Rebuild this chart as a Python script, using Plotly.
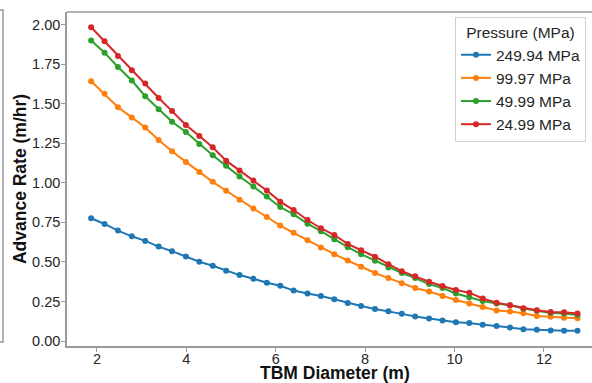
import plotly.graph_objects as go

diameter_m = [1.87, 2.17, 2.47, 2.78, 3.08, 3.38, 3.68, 3.99, 4.29, 4.59,
              4.89, 5.19, 5.50, 5.80, 6.10, 6.40, 6.71, 7.01, 7.31, 7.61,
              7.91, 8.22, 8.52, 8.82, 9.12, 9.43, 9.73, 10.03, 10.33, 10.63,
              10.94, 11.24, 11.54, 11.84, 12.15, 12.45, 12.75]

rate_249_94 = [0.776, 0.740, 0.698, 0.662, 0.633, 0.597, 0.568, 0.535, 0.501, 0.476,
               0.445, 0.417, 0.394, 0.369, 0.350, 0.319, 0.300, 0.285, 0.264,
               0.241, 0.222, 0.203, 0.189, 0.172, 0.155, 0.143, 0.130, 0.119,
               0.115, 0.103, 0.096, 0.086, 0.075, 0.071, 0.067, 0.065, 0.065]
rate_99_97 = [1.642, 1.562, 1.478, 1.413, 1.350, 1.270, 1.199, 1.132, 1.069, 1.006,
              0.950, 0.893, 0.838, 0.784, 0.730, 0.684, 0.637, 0.591, 0.549,
              0.509, 0.470, 0.430, 0.398, 0.365, 0.335, 0.313, 0.285, 0.260,
              0.237, 0.216, 0.193, 0.187, 0.176, 0.159, 0.153, 0.147, 0.145]
rate_49_99 = [1.899, 1.822, 1.732, 1.646, 1.547, 1.465, 1.386, 1.321, 1.245, 1.174,
              1.107, 1.040, 0.977, 0.914, 0.847, 0.801, 0.742, 0.694, 0.644,
              0.593, 0.549, 0.508, 0.465, 0.430, 0.398, 0.360, 0.335, 0.301,
              0.277, 0.253, 0.237, 0.226, 0.205, 0.191, 0.178, 0.174, 0.165]
rate_24_99 = [1.983, 1.895, 1.801, 1.711, 1.627, 1.536, 1.453, 1.365, 1.296, 1.225,
              1.140, 1.077, 1.014, 0.951, 0.881, 0.828, 0.765, 0.713, 0.670,
              0.614, 0.574, 0.533, 0.486, 0.442, 0.409, 0.375, 0.348, 0.323,
              0.306, 0.269, 0.243, 0.226, 0.208, 0.195, 0.184, 0.182, 0.174]

series_names = ["249.94 MPa", "99.97 MPa", "49.99 MPa", "24.99 MPa"]
series_values = [rate_249_94, rate_99_97, rate_49_99, rate_24_99]
colors = ["#1f77b4", "#ff7f0e", "#2ca02c", "#d62728"]

x_ticks = [2, 4, 6, 8, 10, 12]
y_ticks = [0, 0.25, 0.5, 0.75, 1.0, 1.25, 1.5, 1.75, 2.0]

FONT = "Liberation Sans, Arial, sans-serif"
SPINE = "#9a9a9a"

fig = go.Figure()
for name, vals, col in zip(series_names, series_values, colors):
    fig.add_trace(go.Scatter(
        x=diameter_m, y=vals, name=name, mode="lines+markers",
        line=dict(color=col, width=2),
        marker=dict(color=col, size=6),
    ))

fig.update_layout(
    width=592, height=383,
    margin=dict(l=67, r=0, t=12, b=37),
    paper_bgcolor="white", plot_bgcolor="white",
    font=dict(family=FONT, color="#262626", size=14.5),
    showlegend=True,
    legend=dict(
        x=0.739, y=0.985, xanchor="left", yanchor="top",
        bgcolor="white", bordercolor="#d0d0d0", borderwidth=1,
        font=dict(family=FONT, size=15.5, color="#262626"),
        title=dict(text="Pressure (MPa)", side="top center",
                   font=dict(family=FONT, size=15.5, color="#262626")),
        itemwidth=30,
    ),
)

fig.update_xaxes(
    range=[1.33, 13.075], tickvals=x_ticks, ticktext=[str(t) for t in x_ticks],
    ticks="outside", ticklen=4, tickwidth=1, tickcolor=SPINE,
    ticklabelstandoff=-5,
    showline=True, linecolor=SPINE, linewidth=1.5, mirror=False,
    showgrid=False, zeroline=False,
    tickfont=dict(family=FONT, size=14.5, color="#262626"),
    automargin=False,
)
fig.update_yaxes(
    range=[-0.031, 2.079], tickvals=y_ticks, tickformat=".2f",
    ticks="outside", ticklen=4, tickwidth=1, tickcolor=SPINE,
    ticklabelstandoff=-2,
    showline=True, linecolor=SPINE, linewidth=1.5, mirror=False,
    showgrid=False, zeroline=False,
    tickfont=dict(family=FONT, size=14.5, color="#262626"),
    title=dict(text="<b>Advance Rate (m/hr)</b>", standoff=1,
               font=dict(family=FONT, size=17.5, color="#111111")),
    automargin=False,
)

# x-axis title placed precisely below the tick labels
fig.add_annotation(text="<b>TBM Diameter (m)</b>", xref="paper", yref="paper",
                   x=0.5105, y=-0.0823, xanchor="center", yanchor="middle",
                   showarrow=False, borderpad=0,
                   font=dict(family=FONT, size=17.5, color="#111111"))

# top spine (right spine is cropped off in the reference)
fig.add_shape(type="line", xref="paper", yref="paper",
              x0=0, x1=1.05, y0=1, y1=1,
              line=dict(color=SPINE, width=1.5))
# edge of the neighbouring panel at the far left
fig.add_shape(type="path", xref="paper", yref="paper",
              path="M -0.14,1.006 L -0.1219,1.006 L -0.1219,0.012 L -0.14,0.012",
              line=dict(color=SPINE, width=1.5))

fig.write_html("out.html", config={"displayModeBar": False},
               post_script="document.body.style.margin='0';document.body.style.overflow='hidden';")
